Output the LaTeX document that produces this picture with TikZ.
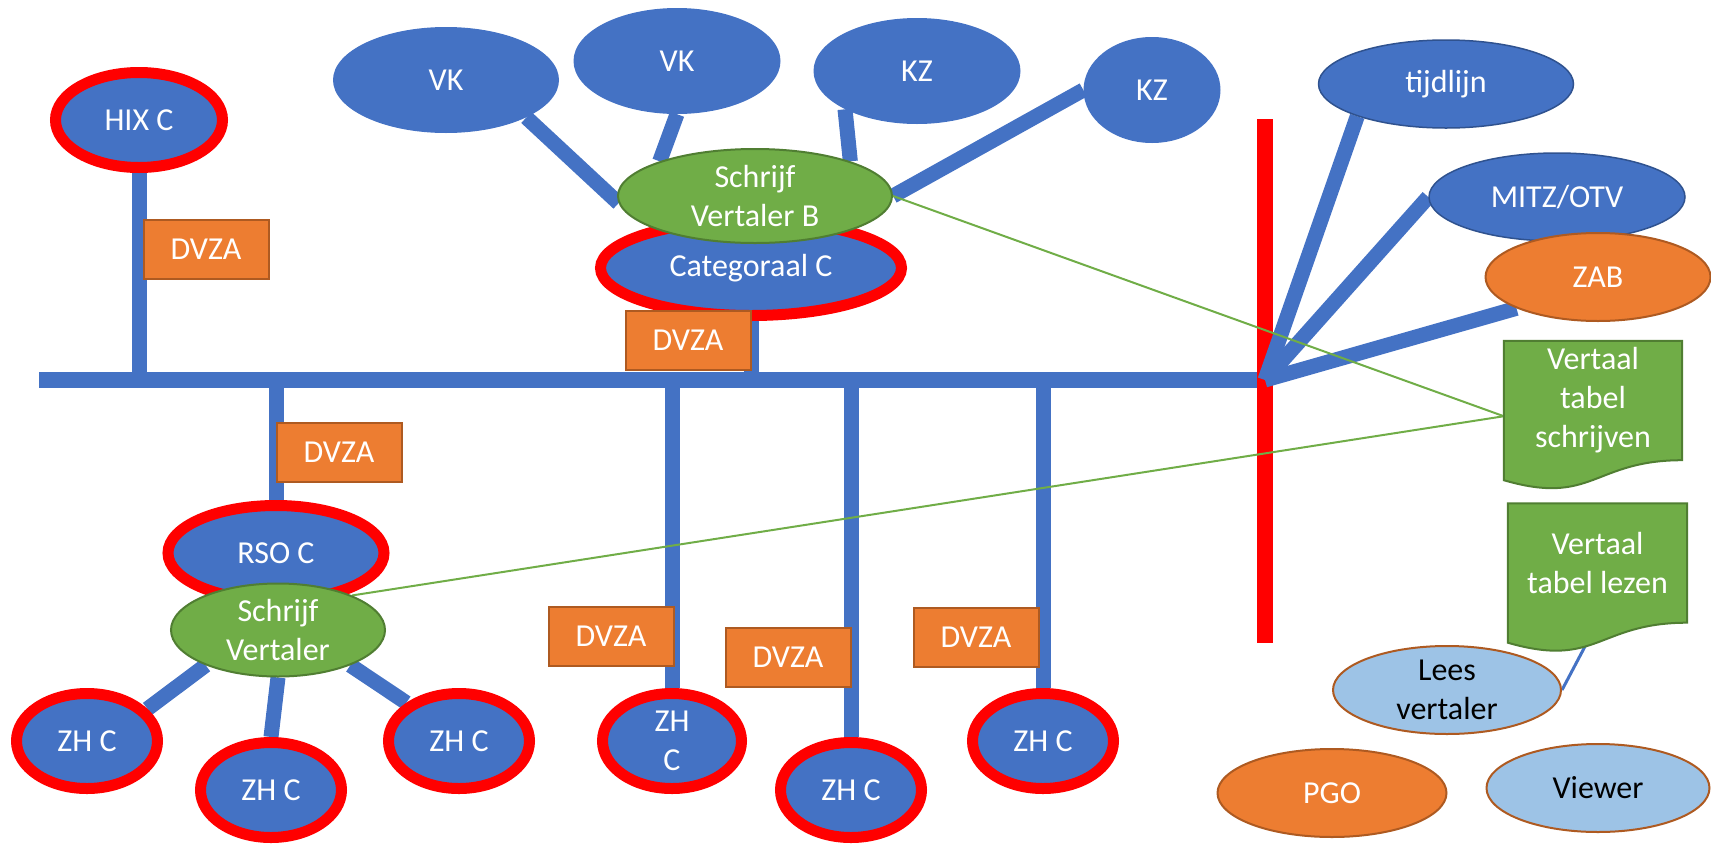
\documentclass[tikz,border=0pt]{standalone}
\usepackage{fontspec}
\setmainfont{Carlito}
\usepackage{tikz}
\usetikzlibrary{shapes.geometric,backgrounds,calc}
\definecolor{officeblue}{HTML}{4472C4}
\definecolor{deepblue}{HTML}{2F528F}
\definecolor{officeorange}{HTML}{ED7D31}
\definecolor{rust}{HTML}{AE5A21}
\definecolor{officegreen}{HTML}{70AD47}
\definecolor{deepgreen}{HTML}{507E32}
\definecolor{paleblue}{HTML}{9DC3E6}
\tikzstyle{blob}=[ellipse,fill=officeblue,text=white,inner sep=0pt,minimum height=106pt]
\tikzstyle{ringed}=[blob,draw=red,line width=11pt,minimum height=95pt]
\tikzstyle{outlined}=[blob,draw=deepblue,line width=1.5pt,minimum height=88pt]
\tikzstyle{writer}=[ellipse,fill=officegreen,draw=deepgreen,line width=2pt,text=white,align=center,inner sep=0pt]
\tikzstyle{orangeblob}=[ellipse,fill=officeorange,draw=rust,line width=2pt,text=white,inner sep=0pt,minimum height=88pt]
\tikzstyle{paleblob}=[ellipse,fill=paleblue,draw=rust,line width=2pt,text=black,align=center,inner sep=0pt,minimum height=88pt]
\tikzstyle{tag}=[rectangle,fill=officeorange,draw=rust,line width=2pt,text=white,minimum width=125pt,minimum height=59pt]
\tikzstyle{doctext}=[rectangle,text=white,align=center,inner sep=0pt,minimum height=119pt]
\tikzstyle{docline}=[fill=officegreen,draw=deepgreen,line width=2pt]
\tikzstyle{wire}=[draw=officeblue,line width=15pt]
\tikzstyle{barrier}=[draw=red,line width=16pt]
\tikzstyle{link}=[draw=officegreen,line width=2pt]
% document shape with a wavy bottom, drawn round a doctext node
\newcommand{\docshape}[1]{%
  \filldraw[docline] (#1.north west) -- (#1.north east) -- (#1.south east)
    .. controls (#1.south) and ($(#1.south)+(0,46)$) .. ($(#1.south west)+(0,20)$) -- cycle;}
\begin{document}
\begin{tikzpicture}[x=1pt,y=-1pt,font=\fontsize{32}{39}\selectfont]
\useasboundingbox (0,0) rectangle (1711,844);
% sources above the writer
\foreach \place/\name/\txt/\wid in {{(446,80)/vka/VK/226}, {(677,61)/vkb/VK/207}, {(917,71)/kza/KZ/207}, {(1152,90)/kzb/KZ/137}}
    \node[blob,minimum width=\wid pt] (\name) at \place {\txt};
\node[ringed,minimum width=167pt] (hix) at (139,120) {HIX C};
\node[ringed,minimum width=301pt] (cat) at (751,268) {Categoraal C};
\node[writer,minimum width=274pt,minimum height=94pt] (svb) at (755,196) {Schrijf\\Vertaler B};
\node[ringed,minimum width=216pt] (rso) at (276,553) {RSO C};
\node[writer,minimum width=214pt,minimum height=93pt] (sv) at (278,630) {Schrijf\\Vertaler};
\foreach \place/\name in {{(87,741)/zha}, {(271,790)/zhb}, {(459,741)/zhc}, {(851,790)/zhe}, {(1043,741)/zhf}}
    \node[ringed,minimum width=141pt] (\name) at \place {ZH C};
\node[ringed,minimum width=139pt,align=center] (zhd) at (672,741) {ZH\\C};
\foreach \place/\name in {{(206,249)/dvzaa}, {(688,340)/dvzab}, {(339,452)/dvzac}, {(611,636)/dvzad}, {(788,657)/dvzae}, {(976,637)/dvzaf}}
    \node[tag] (\name) at \place {DVZA};
% right hand side
\node[outlined,minimum width=255pt] (tijd) at (1446,84) {tijdlijn};
\node[outlined,minimum width=256pt] (mitz) at (1557,197) {MITZ/OTV};
\node[orangeblob,minimum width=225pt] (zab) at (1598,277) {ZAB};
\node[doctext,minimum width=178pt] (vts) at (1593,400.5) {Vertaal\\tabel\\schrijven};
\node[doctext,minimum width=179pt] (vtl) at (1597.5,563) {Vertaal\\tabel lezen};
\node[paleblob,minimum width=228pt] (lees) at (1447,690) {Lees\\vertaler};
\node[orangeblob,minimum width=229pt] (pgo) at (1332,793) {PGO};
\node[paleblob,minimum width=223pt] (viewer) at (1598,788) {Viewer};
\begin{scope}[on background layer]
\coordinate (busw) at (39,380);
\coordinate (hub) at (1265,380);
\coordinate (redtop) at (1265,119);
\coordinate (redbot) at (1265,643);
\draw[wire,line width=16pt] (busw) -- (hub);
\foreach \name in {hix,cat}
    \draw[wire] (\name.south) -- (\name.south |- busw);
\foreach \name in {rso,zhd,zhe,zhf}
    \draw[wire] (\name.north |- busw) -- (\name.north);
\draw[barrier] (redtop) -- (redbot);
\foreach \dest in {tijd.200, mitz.west, zab.201}
    \draw[wire] (hub) -- (\dest);
\foreach \source/\dest in {vka.-25/svb.183, vkb.south/svb.160, kza.208/svb.20, kzb.west/svb.east, sv.206/zha.28, sv.south/zhb.north, sv.-26/zhc.144}
    \draw[wire] (\source) -- (\dest);
\foreach \source in {svb.east, sv.25}
    \draw[link] (\source) -- (vts.190);
\draw[wire,line width=3pt] (lees.east) -- (vtl.south);
\docshape{vts}
\docshape{vtl}
\end{scope}
\end{tikzpicture}
\end{document}
